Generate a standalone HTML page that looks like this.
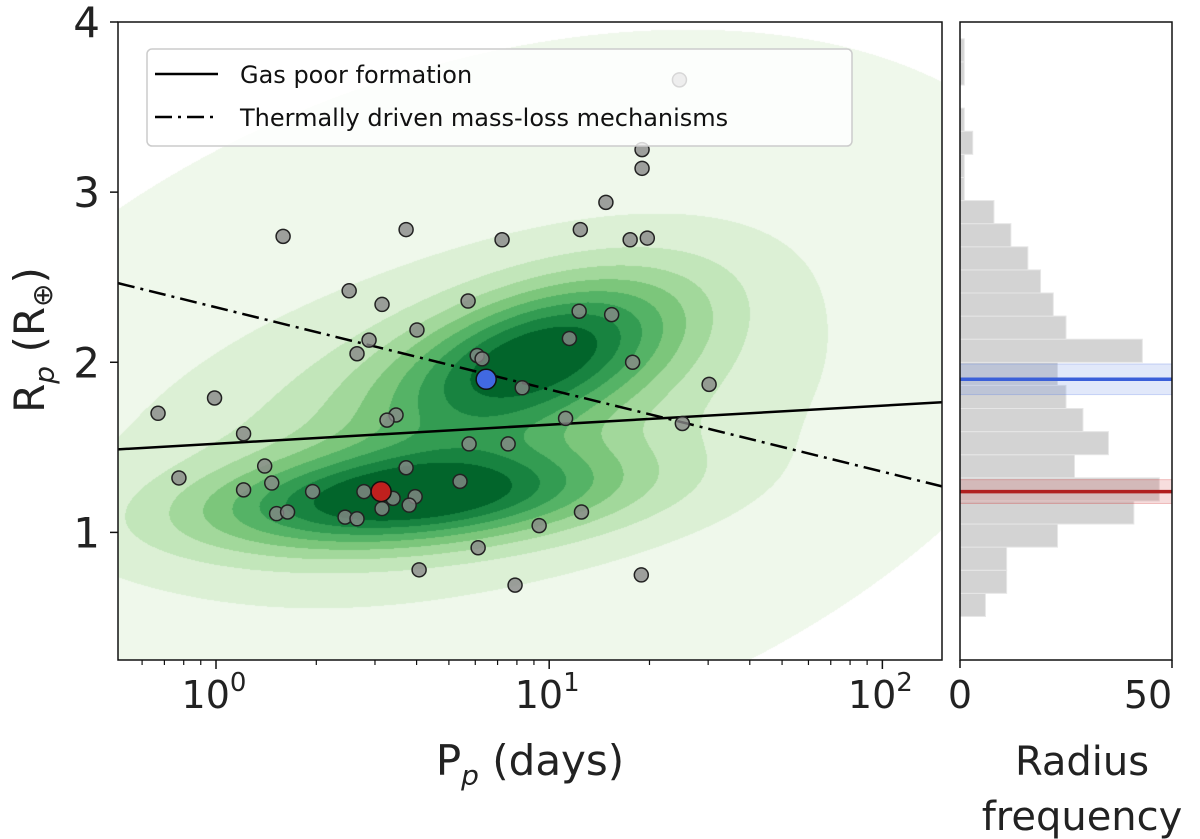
<!DOCTYPE html>
<html><head><meta charset="utf-8">
<style>
body{margin:0;background:#fff;width:1200px;height:839px;overflow:hidden;position:relative;font-family:"DejaVu Sans","Liberation Sans",sans-serif;}
#kde{position:absolute;left:118px;top:22px;}
#svg{position:absolute;left:0;top:0;}
</style></head>
<body>
<canvas id="kde" width="824" height="638"></canvas>
<svg id="svg" width="1200" height="839" xmlns="http://www.w3.org/2000/svg" font-family="DejaVu Sans, Liberation Sans, sans-serif">
<g id="marks"></g>
<g id="legend">
 <rect x="147" y="49" width="705" height="97" rx="5" fill="#fff" fill-opacity="0.82" stroke="#ccc" stroke-width="1.5"/>
 <line x1="155" y1="74" x2="218" y2="74" stroke="#000" stroke-width="2.5"/>
 <text x="240" y="83" font-size="24" fill="#111">Gas poor formation</text>
 <line x1="155" y1="117" x2="218" y2="117" stroke="#000" stroke-width="2.5" stroke-dasharray="17,6,3,6"/>
 <text x="240" y="126" font-size="24" fill="#111">Thermally driven mass-loss mechanisms</text>
</g>
<g id="axes"></g>
<text x="530" y="775" font-size="42" text-anchor="middle" fill="#222">P<tspan font-style="italic" font-size="28" dy="10">p</tspan><tspan dy="-10"> (days)</tspan></text>
<text transform="translate(44,340) rotate(-90)" font-size="42" text-anchor="middle" fill="#222">R<tspan font-style="italic" font-size="28" dy="10">p</tspan><tspan dy="-10"> (R</tspan><tspan font-size="28" dy="8">⊕</tspan><tspan dy="-8">)</tspan></text>
<text x="1082" y="775" font-size="40" text-anchor="middle" fill="#222">Radius</text>
<text x="1082" y="830" font-size="40" text-anchor="middle" fill="#222">frequency</text>
</svg>
<script>
// ---- data ----
const periods = [19.0,19.0,14.8,12.4,17.5,19.7,3.72,1.59,7.22,2.51,3.15,5.71,12.3,15.4,4.01,11.5,2.88,2.65,6.08,6.29,17.8,30.2,8.30,0.99,0.67,3.47,3.26,11.2,25.1,1.21,5.75,7.53,1.40,3.72,0.774,1.47,5.40,1.21,1.95,2.78,3.40,3.96,3.80,3.15,12.5,1.52,1.64,2.44,2.65,9.33,6.12,4.07,18.9,7.90];
const radii   = [3.25,3.14,2.94,2.78,2.72,2.73,2.78,2.74,2.72,2.42,2.34,2.36,2.30,2.28,2.19,2.14,2.13,2.05,2.04,2.02,2.00,1.87,1.85,1.79,1.70,1.69,1.66,1.67,1.64,1.58,1.52,1.52,1.39,1.38,1.32,1.29,1.30,1.25,1.24,1.24,1.20,1.21,1.16,1.14,1.12,1.11,1.12,1.09,1.08,1.04,0.91,0.78,0.75,0.69];
const hiddenPoint = [24.6,3.66];
const bluePlanet = [6.47,1.90,0.09];
const redPlanet = [3.13,1.24,0.07];
const gasPoorLine = [1.521,0.112];     // R = a + b*log10(P)
const thermalLine = [2.323,-0.483];
const histStart = 0.506, histBin = 0.1358;
const histCounts = [6,11,11,23,41,47,27,35,29,25,23,43,25,22,19,16,12,8,1,1,3,1,0,1,1];
const xTickVals = [1,10,100];
const xTickLabels = ['0','1','2'];
const yTickVals = [1,2,3,4];
const hTickVals = [0,50];
// KDE components: [logP, R, sx, sy, rho, weight]
const kdeComps = [[0.98,2.05,0.3,0.32,0.5,1.0],[0.58,1.2,0.42,0.2,0.3,1.05],[0.72,1.6,0.6,0.55,0.4,0.35],[0.8,1.75,1.2,1.5,0.35,0.14]];
const kdeLevels = [0.032,0.11,0.21,0.31,0.41,0.51,0.61,0.71,0.81];
const kdeColors = ['#eff8eb','#dcf0d5','#c2e6ba','#a2d89b','#7cc67b','#55b366','#339c52','#188340','#02652b'];

// ---- axes ----
const PL=118,PR=942,PT=22,PB=660, HL=960,HR=1172;
const lx0=Math.log10(0.508), lx1=Math.log10(151);
const X=p=>PL+(Math.log10(p)-lx0)/(lx1-lx0)*(PR-PL);
const Y=r=>PB-(r-0.25)/(4-0.25)*(PB-PT);
const H=c=>HL+c/50*(HR-HL);
const NS='http://www.w3.org/2000/svg';
function mk(parent,tag,attrs){const e=document.createElementNS(NS,tag);for(const k in attrs)e.setAttribute(k,attrs[k]);parent.appendChild(e);return e;}
const marks=document.getElementById('marks'), axes=document.getElementById('axes');

// KDE canvas
const cv=document.getElementById('kde'),ctx=cv.getContext('2d');
const img=ctx.createImageData(824,638);
const cols=kdeColors.map(h=>[parseInt(h.substr(1,2),16),parseInt(h.substr(3,2),16),parseInt(h.substr(5,2),16)]);
function dens(lp,r){let s=0;for(const c of kdeComps){const u=(lp-c[0])/c[2],v=(r-c[1])/c[3];s+=c[5]*Math.exp(-(u*u-2*c[4]*u*v+v*v)/(2*(1-c[4]*c[4])));}return s;}
let maxD=0;const D=new Float32Array(824*638);
for(let j=0;j<638;j++)for(let i=0;i<824;i++){const lp=lx0+(i+0.5)/824*(lx1-lx0);const r=4-(j+0.5)/638*3.75;const d=dens(lp,r);D[j*824+i]=d;if(d>maxD)maxD=d;}
for(let k=0;k<D.length;k++){const f=D[k]/maxD;let lv=-1;for(let l=0;l<kdeLevels.length;l++)if(f>=kdeLevels[l])lv=l;const o=k*4;if(lv<0){img.data[o]=255;img.data[o+1]=255;img.data[o+2]=255;}else{img.data[o]=cols[lv][0];img.data[o+1]=cols[lv][1];img.data[o+2]=cols[lv][2];}img.data[o+3]=255;}
ctx.putImageData(img,0,0);

// lines
function fitLine(c,name,dash){const p0=0.508,p1=151;const e=mk(marks,'line',{x1:X(p0),y1:Y(c[0]+c[1]*Math.log10(p0)),x2:X(p1),y2:Y(c[0]+c[1]*Math.log10(p1)),stroke:'#000','stroke-width':2.5});if(dash)e.setAttribute('stroke-dasharray',dash);

}
fitLine(gasPoorLine,'gas-poor-formation-line',null);
fitLine(thermalLine,'thermal-mass-loss-line','17,6,3,6');

// points
const hp=mk(marks,'circle',{cx:X(hiddenPoint[0]),cy:Y(hiddenPoint[1]),r:7,fill:'#888','fill-opacity':0.8,stroke:'#222','stroke-width':1.5});


periods.forEach((p,i)=>{const c=mk(marks,'circle',{cx:X(p),cy:Y(radii[i]),r:7,fill:'#888','fill-opacity':0.8,stroke:'#222','stroke-width':1.5});

});
[[bluePlanet,'#4169e1','blue-planet'],[redPlanet,'#c0201e','red-planet']].forEach(([d,col,nm])=>{
 const el=mk(marks,'line',{x1:X(d[0]),x2:X(d[0]),y1:Y(d[1]+0.05),y2:Y(d[1]-0.05),stroke:'#000','stroke-width':2});
 
 
 const c=mk(marks,'circle',{cx:X(d[0]),cy:Y(d[1]),r:10,fill:col,stroke:'#111','stroke-width':1.5});
 
 
});

// histogram
histCounts.forEach((c,i)=>{if(!c)return;const r0=histStart+i*histBin,r1=r0+histBin;const b=mk(marks,'rect',{x:HL,y:Y(r1),width:H(c)-HL,height:Y(r0)-Y(r1),fill:'#d3d3d3',stroke:'#e6e6e6','stroke-width':1});

});
[[bluePlanet,'#3a5fd9','#5b7fe6','blue-radius'],[redPlanet,'#b01e1e','#d04040','red-radius']].forEach(([d,col,bcol,nm])=>{
 const band=mk(marks,'rect',{x:HL,y:Y(d[1]+d[2]),width:HR-HL,height:Y(d[1]-d[2])-Y(d[1]+d[2]),fill:bcol,'fill-opacity':0.18,stroke:bcol,'stroke-opacity':0.3});
 
 
 const l=mk(marks,'line',{x1:HL,x2:HR,y1:Y(d[1]),y2:Y(d[1]),stroke:col,'stroke-width':3.5});
 
 
});

// frames
const f1=mk(axes,'rect',{x:PL,y:PT,width:PR-PL,height:PB-PT,fill:'none',stroke:'#111','stroke-width':1.5});


const f2=mk(axes,'rect',{x:HL,y:PT,width:HR-HL,height:PB-PT,fill:'none',stroke:'#111','stroke-width':1.5});


// y ticks
yTickVals.forEach(v=>{const t=mk(axes,'line',{x1:PL-8,x2:PL,y1:Y(v),y2:Y(v),stroke:'#111','stroke-width':1.5});


const tx=mk(axes,'text',{x:PL-18,y:Y(v)+15,'font-size':42,'text-anchor':'end',fill:'#222'});tx.textContent=v;

});
// x ticks
xTickVals.forEach((v,i)=>{const t=mk(axes,'line',{x1:X(v),x2:X(v),y1:PB,y2:PB+9,stroke:'#111','stroke-width':1.5});


const tx=mk(axes,'text',{x:X(v)-2,y:PB+48,'font-size':38,'text-anchor':'middle',fill:'#222'});tx.innerHTML='10<tspan font-size="26" dy="-17">'+xTickLabels[i]+'</tspan>';

});
for(let dec=-1;dec<=2;dec++)for(let m=2;m<=9;m++){const v=m*Math.pow(10,dec);if(v<0.508||v>151)continue;const t=mk(axes,'line',{x1:X(v),x2:X(v),y1:PB,y2:PB+5,stroke:'#111','stroke-width':1.2});

}
hTickVals.forEach(v=>{const t=mk(axes,'line',{x1:H(v),x2:H(v),y1:PB,y2:PB+8,stroke:'#111','stroke-width':1.5});


const tx=mk(axes,'text',{x:v===0?H(v):H(v)-24,y:PB+48,'font-size':38,'text-anchor':'middle',fill:'#222'});tx.textContent=v;

});
</script>
</body></html>
